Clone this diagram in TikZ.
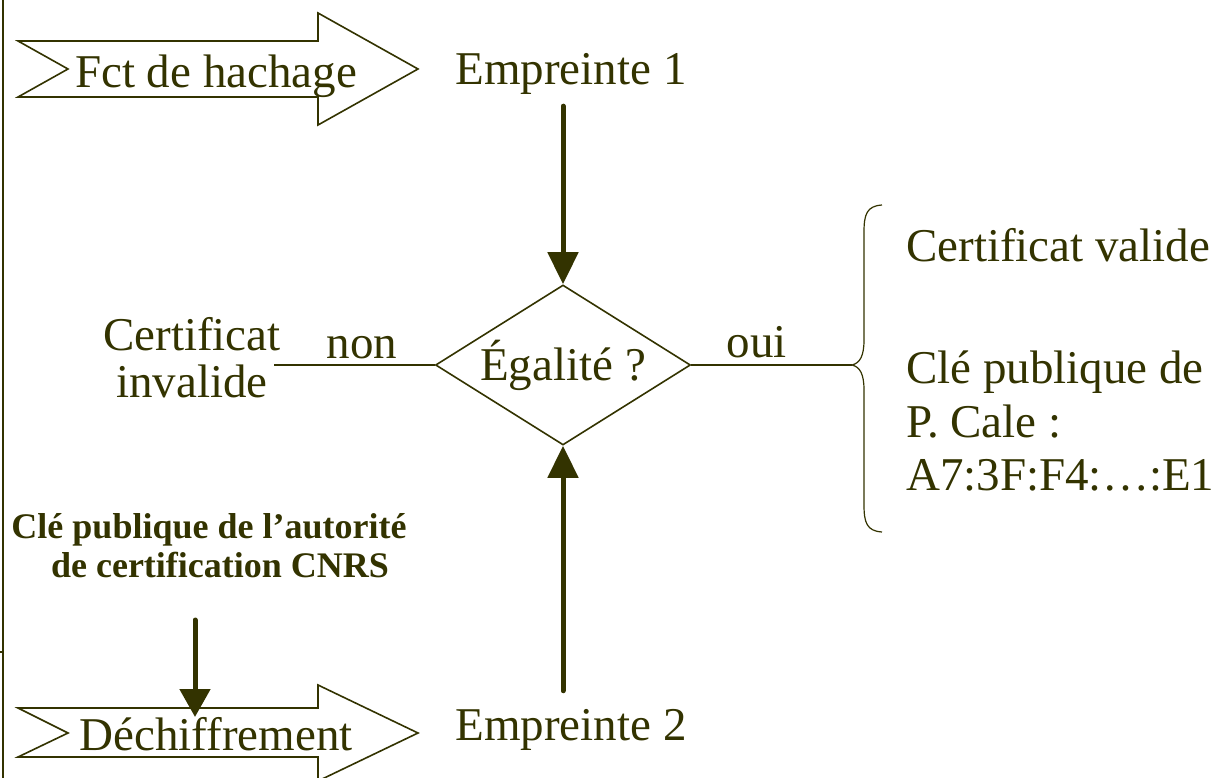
\documentclass[tikz,border=0pt]{standalone}
\usepackage{fontspec}
\setmainfont{Liberation Serif}
\usetikzlibrary{arrows.meta,shapes.geometric}
\definecolor{kaki}{RGB}{51,51,0}

\begin{document}
\begin{tikzpicture}[x=1pt, y=-1pt, color=kaki, line width=1.6pt,
  texte/.style={font=\fontsize{47}{56}\selectfont, text=kaki, anchor=base},
  gras/.style={font=\fontsize{36}{40}\selectfont\bfseries, text=kaki, anchor=base},
  losange/.style={draw, shape=diamond, aspect=1.6, minimum width=255pt,
    minimum height=160pt, inner sep=0pt, font=\fontsize{47}{56}\selectfont, text=kaki},
  fleche/.style={line width=5pt, line cap=round, -{Triangle[width=30pt,length=32pt]}}]
\useasboundingbox (0,0) rectangle (1219,778);
% Bord gauche
\draw[line width=1.2pt] (3,0) -- (3,778);
\draw[line width=1.2pt] (0,652) -- (3,652);
% Fleche du haut
\draw[fill=white] (18,41) -- (318,41) -- (318,13) -- (418,69) -- (318,125) -- (318,97) -- (18,97) -- (68,69) -- cycle;
\node[texte] (hach) at (216,88) {Fct de hachage};
% Fleche du bas
\draw[fill=white] (18,708) -- (318,708) -- (318,685) -- (418,733) -- (318,781) -- (318,757) -- (18,757) -- (68,733) -- cycle;
\node[texte] (dechif) at (216,750) {Déchiffrement};
% Empreintes
\node[texte] (emp1) at (571,85) {Empreinte 1};
\node[texte] (emp2) at (571,740) {Empreinte 2};
% Test d'egalite
\node[losange] (egal) at (563,365) {Égalité ?};
\draw[fleche, shorten <=7pt] (emp1.south -| egal) -- (egal.north);
\draw[fleche, shorten <=14pt] (emp2.north -| egal) -- (egal.south);
% Branche non
\coordinate (gauche) at (274,365);
\draw (egal.west) -- (gauche);
\node[texte] (non) at (362,358) {non};
\node[texte] (inv1) at (192,350) {Certificat};
\node[texte] (inv2) at (192,397) {invalide};
% Branche oui
\coordinate (pointe) at (852,365);
\draw (egal.east) -- (pointe);
\node[texte] (oui) at (757,357) {oui};
% Accolade
\draw[line width=1.2pt] (882,205) .. controls (867,206) and (864,214) .. (864,232) -- (864,340)
  .. controls (864,356) and (860,363) .. (pointe)
  .. controls (860,367) and (864,374) .. (864,390) -- (864,505)
  .. controls (864,523) and (867,531) .. (882,532);
\node[texte, anchor=base west] (valide) at (902,262) {Certificat valide};
\node[texte, anchor=base west] (cle) at (902,383) {Clé publique de};
\node[texte, anchor=base west] (cale) at (902,437) {P. Cale :};
\node[texte, anchor=base west] (empr) at (902,490) {A7:3F:F4:…:E1};
% Cle de l'autorite
\node[gras] (aut1) at (209,538) {Clé publique de l’autorité};
\node[gras] (aut2) at (220,577) {de certification CNRS};
\coordinate (depart) at (195,620);
\coordinate (cible) at (195,717);
\draw[fleche, -{Triangle[width=30pt,length=28pt]}] (depart) -- (cible);
\end{tikzpicture}
\end{document}
